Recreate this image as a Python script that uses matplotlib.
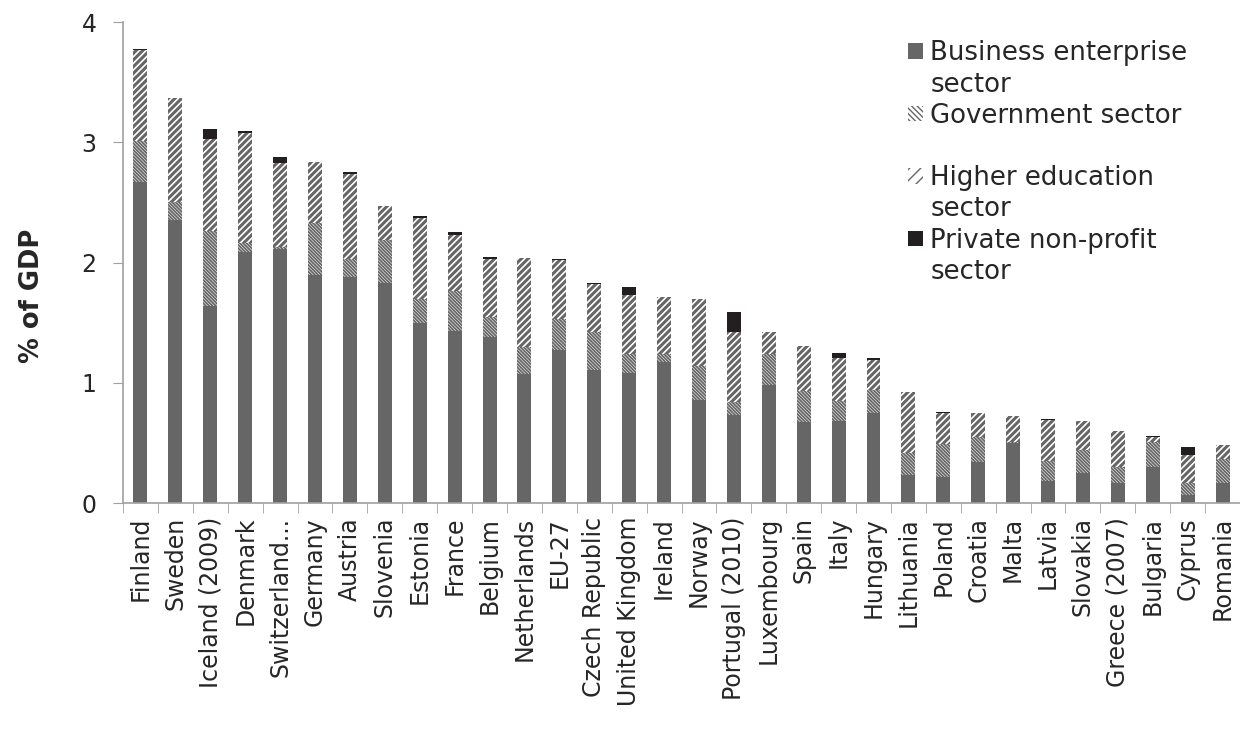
import numpy as np
import matplotlib
matplotlib.use("Agg")
import matplotlib.pyplot as plt
from matplotlib.patches import Patch

countries = ["Finland", "Sweden", "Iceland (2009)", "Denmark", "Switzerland...", "Germany",
             "Austria", "Slovenia", "Estonia", "France", "Belgium", "Netherlands", "EU-27",
             "Czech Republic", "United Kingdom", "Ireland", "Norway", "Portugal (2010)",
             "Luxembourg", "Spain", "Italy", "Hungary", "Lithuania", "Poland", "Croatia",
             "Malta", "Latvia", "Slovakia", "Greece (2007)", "Bulgaria", "Cyprus", "Romania"]

business = [2.67, 2.35, 1.64, 2.09, 2.11, 1.90, 1.88, 1.83, 1.50, 1.43, 1.38, 1.07, 1.27,
            1.11, 1.08, 1.17, 0.86, 0.73, 0.98, 0.67, 0.68, 0.75, 0.23, 0.22, 0.34, 0.50,
            0.18, 0.25, 0.17, 0.30, 0.07, 0.17]
government = [0.34, 0.15, 0.62, 0.07, 0.02, 0.43, 0.15, 0.36, 0.20, 0.33, 0.17, 0.23, 0.26,
              0.31, 0.16, 0.07, 0.28, 0.11, 0.26, 0.26, 0.17, 0.19, 0.19, 0.27, 0.21, 0.01,
              0.17, 0.19, 0.13, 0.21, 0.10, 0.20]
higher = [0.76, 0.87, 0.77, 0.92, 0.70, 0.51, 0.71, 0.28, 0.67, 0.47, 0.48, 0.74, 0.49,
          0.40, 0.49, 0.47, 0.56, 0.58, 0.18, 0.38, 0.36, 0.25, 0.50, 0.26, 0.20, 0.21,
          0.34, 0.24, 0.30, 0.04, 0.23, 0.11]
private = [0.01, 0.0, 0.08, 0.01, 0.05, 0.0, 0.01, 0.0, 0.02, 0.02, 0.015, 0.0, 0.01,
           0.01, 0.07, 0.0, 0.0, 0.17, 0.0, 0.0, 0.04, 0.02, 0.0, 0.01, 0.0, 0.0,
           0.01, 0.0, 0.0, 0.01, 0.07, 0.0]

plt.rcParams['font.family'] = ['DejaVu Sans']
txt = '#262626'
axis_col = '#a0a0a0'
bus_col = '#666666'
hatch_col = '#666666'
gov_hatch = '\\' * 10
edu_hatch = '/////'

fig = plt.figure(figsize=(12.4, 7.35), dpi=100)
ax = fig.add_axes([0.0992, 0.3156, 0.9008, 0.6544])

x = np.arange(len(countries))
w = 0.4
b = np.array(business)
g = np.array(government)
h = np.array(higher)
p = np.array(private)

ax.bar(x, b, w, color=bus_col, lw=0)
with plt.rc_context({'hatch.linewidth': 1.3}):
    ax.bar(x, g, w, bottom=b, facecolor='white', edgecolor=hatch_col, hatch=gov_hatch, lw=0)
with plt.rc_context({'hatch.linewidth': 2.2}):
    ax.bar(x, h, w, bottom=b + g, facecolor='white', edgecolor=hatch_col, hatch=edu_hatch, lw=0)
ax.bar(x, p, w, bottom=b + g + h, color='#231f20', lw=0)

ax.set_xlim(-0.5, len(countries) - 0.5)
ax.set_ylim(0, 4)
ax.set_yticks([0, 1, 2, 3, 4])
ax.set_xticks(x)
ax.set_xticklabels(countries, rotation=90, fontsize=17, color=txt)
ax.set_xticks(np.arange(-0.5, len(countries), 1), minor=True)
ax.tick_params(axis='x', which='major', length=0, pad=10)
ax.tick_params(axis='x', which='minor', length=7, color=axis_col, direction='out')
ax.tick_params(axis='y', length=7, color=axis_col, labelsize=17, labelcolor=txt, pad=12)

for s in ['top', 'right']:
    ax.spines[s].set_visible(False)
for s in ['left', 'bottom']:
    ax.spines[s].set_color(axis_col)
    ax.spines[s].set_linewidth(1.2)

ax.set_ylabel('% of GDP', fontsize=18.5, fontweight='bold', color=txt)
ax.yaxis.set_label_coords(-0.070, 0.43)

# legend: each text line is its own row so markers sit on the first line
blank = Patch(facecolor='none', edgecolor='none')
with plt.rc_context({'hatch.linewidth': 1.2}):
    gov_patch = Patch(facecolor='white', edgecolor=hatch_col, hatch='\\' * 6, lw=0)
with plt.rc_context({'hatch.linewidth': 2.0}):
    edu_patch = Patch(facecolor='white', edgecolor=hatch_col, hatch='///', lw=0)
handles = [Patch(facecolor=bus_col, edgecolor='none'), blank,
           gov_patch, blank,
           edu_patch, blank,
           Patch(facecolor='#231f20', edgecolor='none'), blank]
labels = ['Business enterprise', 'sector', 'Government sector', ' ',
          'Higher education', 'sector', 'Private non-profit', 'sector']
leg = fig.legend(handles, labels, loc='upper left', bbox_to_anchor=(0.7325, 0.945),
                 frameon=False, fontsize=18.7, handlelength=0.55, handleheight=0.55,
                 handletextpad=0.3, labelspacing=0.2, borderpad=0, borderaxespad=0)
for t in leg.get_texts():
    t.set_color(txt)

fig.savefig('out.png', dpi=100)
